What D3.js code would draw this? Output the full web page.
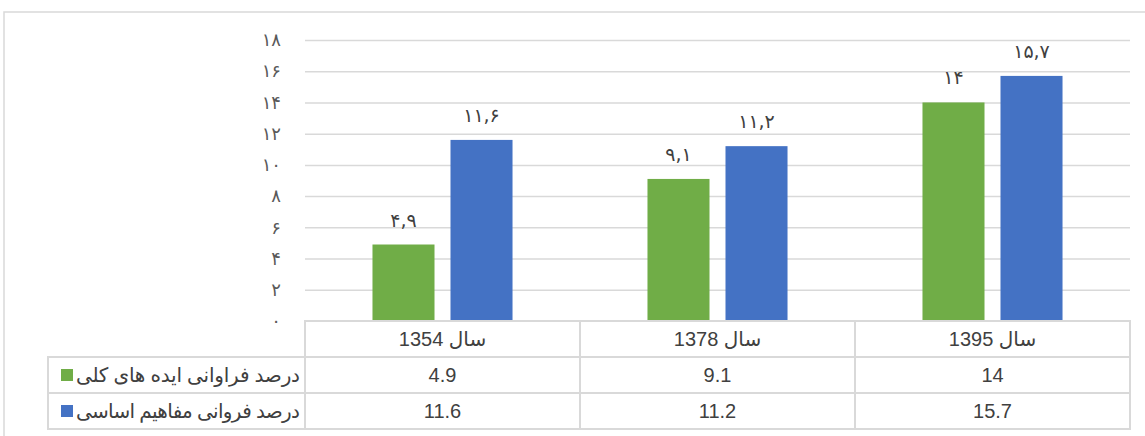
<!DOCTYPE html>
<html>
<head>
<meta charset="utf-8">
<script src="https://cdn.jsdelivr.net/npm/d3@7"></script>
<style>
  body { margin: 0; background: #fff; }
  svg { display: block; }
  .grid line { stroke: #d9d9d9; stroke-width: 1.5; }
  .grid path { display: none; }
  .y-axis path, .y-axis line { display: none; }
  .y-axis text { fill: #595959; font-size: 18px; font-family: "DejaVu Sans", sans-serif; }
  .cell-line { stroke: #d9d9d9; stroke-width: 2; fill: none; }
  .tbl { fill: #404040; font-family: "Liberation Sans", "DejaVu Sans", sans-serif; font-size: 20px; }
</style>
</head>
<body>
<svg id="chart"></svg>
<script>
// Data
const categories = ['سال 1354', 'سال 1378', 'سال 1395'];
const seriesNames = ['درصد فراوانی ایده های کلی', 'درصد فروانی مفاهیم اساسی'];
const ideasValues = [4.9, 9.1, 14];
const conceptsValues = [11.6, 11.2, 15.7];
const yTicks = [0, 2, 4, 6, 8, 10, 12, 14, 16, 18];
const colors = ['#70ad47', '#4472c4'];

const allSeries = [ideasValues, conceptsValues];

const width = 1145, height = 436;
const plot = {left: 305, right: 1130, top: 40, bottom: 321};

const svg = d3.select('#chart').attr('width', width).attr('height', height);

// outer frame
svg.append('rect')
    .attr('x', 4).attr('y', 12)
    .attr('width', 1160).attr('height', 460)
    .attr('fill', 'none').attr('stroke', '#d9d9d9').attr('stroke-width', 1.5);

// Persian digit formatting
const faDigits = '۰۱۲۳۴۵۶۷۸۹';
const toFa = s => String(s).replace(/[0-9]/g, c => faDigits[+c]).replace('.', ',');

const yScale = d3.scaleLinear().domain([0, 18]).range([plot.bottom, plot.top]);
const xScale = d3.scaleBand().domain(categories).range([plot.left, plot.right]).paddingInner(0).paddingOuter(0);
const xSub = d3.scaleBand().domain(d3.range(allSeries.length)).range([0, xScale.bandwidth()])
    .paddingInner(0.205).paddingOuter(0.865);

// gridlines
svg.append('g')
    .attr('class', 'grid')
    .attr('transform', `translate(${plot.left},0)`)
    .call(d3.axisLeft(yScale).tickValues(yTicks.filter(d => d > 0)).tickSize(-(plot.right - plot.left)).tickFormat(''));

// y axis labels
svg.append('g')
    .attr('class', 'y-axis')
    .attr('transform', `translate(281,0)`)
    .call(d3.axisLeft(yScale).tickValues(yTicks).tickSize(0).tickPadding(0).tickFormat(d => toFa(d)));

// bars
const groups = svg.selectAll('.cat')
    .data(categories)
    .join('g')
    .attr('class', 'cat')
    .attr('transform', d => `translate(${xScale(d)},0)`);

groups.each(function(cat, ci) {
    const g = d3.select(this);
    allSeries.forEach((vals, si) => {
        const v = vals[ci];
        g.append('rect')
            .attr('x', xSub(si))
            .attr('width', xSub.bandwidth())
            .attr('y', yScale(v))
            .attr('height', yScale(0) - yScale(v))
            .attr('fill', colors[si]);
        g.append('text')
            .attr('x', xSub(si) + xSub.bandwidth() / 2)
            .attr('y', yScale(v) - 18)
            .attr('text-anchor', 'middle')
            .attr('fill', '#404040')
            .attr('font-family', '"DejaVu Sans", sans-serif')
            .attr('font-size', 19)
            .attr('letter-spacing', 2)
            .text(toFa(v));
    });
});

// data table
const rowY = [321, 357, 393, 429];
const tableLeft = 48;

// header row
svg.append('rect').attr('class', 'cell-line')
    .attr('x', plot.left).attr('y', rowY[0])
    .attr('width', plot.right - plot.left).attr('height', rowY[1] - rowY[0]);
// value rows
svg.append('rect').attr('class', 'cell-line')
    .attr('x', tableLeft).attr('y', rowY[1])
    .attr('width', plot.right - tableLeft).attr('height', rowY[3] - rowY[1]);
svg.append('line').attr('class', 'cell-line')
    .attr('x1', tableLeft).attr('x2', plot.right).attr('y1', rowY[2]).attr('y2', rowY[2]);
categories.forEach(c => {
    svg.append('line').attr('class', 'cell-line')
        .attr('x1', xScale(c)).attr('x2', xScale(c)).attr('y1', rowY[0]).attr('y2', rowY[3]);
});

// header text
svg.selectAll('.hdr')
    .data(categories)
    .join('text')
    .attr('class', 'tbl hdr')
    .attr('x', d => xScale(d) + xScale.bandwidth() / 2)
    .attr('y', (rowY[0] + rowY[1]) / 2)
    .attr('dy', '0.35em')
    .attr('text-anchor', 'middle')
    .attr('direction', 'rtl')
    .attr('font-size', 21)
    .text(d => d);

// series rows
allSeries.forEach((vals, si) => {
    const cy = (rowY[si + 1] + rowY[si + 2]) / 2;
    svg.append('rect')
        .attr('x', 61).attr('y', cy - 6)
        .attr('width', 12).attr('height', 12)
        .attr('fill', colors[si]);
    svg.append('text')
        .attr('class', 'tbl')
        .attr('x', 300).attr('y', cy)
        .attr('dy', '0.35em')
        .attr('text-anchor', 'start')
        .attr('direction', 'rtl')
        .attr('font-size', 18)
        .attr('textLength', 224)
        .attr('lengthAdjust', 'spacing')
        .text(seriesNames[si]);
    svg.selectAll(null)
        .data(vals)
        .join('text')
        .attr('class', 'tbl')
        .attr('x', (d, i) => xScale(categories[i]) + xScale.bandwidth() / 2)
        .attr('y', cy)
        .attr('dy', '0.35em')
        .attr('text-anchor', 'middle')
        .text(d => d);
});
</script>
</body>
</html>
